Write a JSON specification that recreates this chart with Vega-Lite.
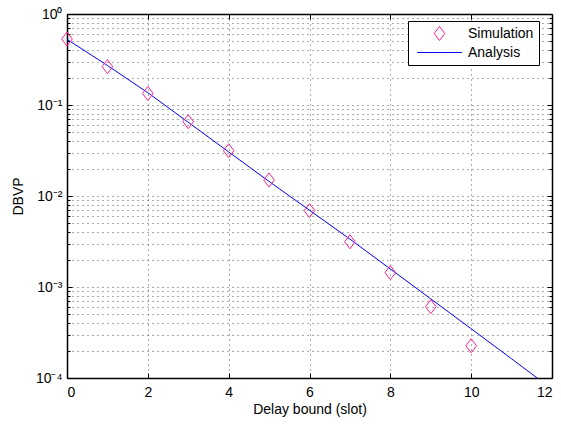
{
  "$schema": "https://vega.github.io/schema/vega-lite/v6.json",
  "width": 485,
  "height": 364,
  "autosize": "none",
  "padding": {"left": 67, "top": 14, "right": 9, "bottom": 47},
  "background": "white",
  "config": {
    "font": "Liberation Sans",
    "view": {"stroke": null},
    "axis": {
      "domainColor": "black",
      "domainWidth": 1.5,
      "tickColor": "black",
      "tickWidth": 1,
      "labelColor": "black",
      "labelFont": "Liberation Sans",
      "labelFontSize": 14,
      "titleColor": "black",
      "titleFont": "Liberation Sans",
      "titleFontSize": 14,
      "titleFontWeight": "normal",
      "gridColor": "#222222",
      "gridDash": [1, 4],
      "gridWidth": 1,
      "gridOpacity": 0.75
    }
  },
  "datasets": {
    "simulation": [
      {"delay": 0, "dbvp": 0.531, "series": "Simulation"},
      {"delay": 1, "dbvp": 0.264, "series": "Simulation"},
      {"delay": 2, "dbvp": 0.134, "series": "Simulation"},
      {"delay": 3, "dbvp": 0.0656, "series": "Simulation"},
      {"delay": 4, "dbvp": 0.0315, "series": "Simulation"},
      {"delay": 5, "dbvp": 0.015, "series": "Simulation"},
      {"delay": 6, "dbvp": 0.0069, "series": "Simulation"},
      {"delay": 7, "dbvp": 0.00314, "series": "Simulation"},
      {"delay": 8, "dbvp": 0.00144, "series": "Simulation"},
      {"delay": 9, "dbvp": 0.000608, "series": "Simulation"},
      {"delay": 10, "dbvp": 0.000226, "series": "Simulation"}
    ],
    "analysis": [
      {"delay": 0, "dbvp": 0.527, "series": "Analysis"},
      {"delay": 1, "dbvp": 0.272, "series": "Analysis"},
      {"delay": 2, "dbvp": 0.1365, "series": "Analysis"},
      {"delay": 3, "dbvp": 0.0646, "series": "Analysis"},
      {"delay": 4, "dbvp": 0.0305, "series": "Analysis"},
      {"delay": 5, "dbvp": 0.01445, "series": "Analysis"},
      {"delay": 6, "dbvp": 0.00698, "series": "Analysis"},
      {"delay": 7, "dbvp": 0.00336, "series": "Analysis"},
      {"delay": 8, "dbvp": 0.001578, "series": "Analysis"},
      {"delay": 9, "dbvp": 0.000741, "series": "Analysis"},
      {"delay": 10, "dbvp": 0.000348, "series": "Analysis"},
      {"delay": 11, "dbvp": 0.0001625, "series": "Analysis"},
      {"delay": 11.635, "dbvp": 0.0001, "series": "Analysis"}
    ]
  },
  "layer": [
    {
      "data": {"name": "analysis"},
      "mark": {"type": "line", "strokeWidth": 1, "clip": true},
      "encoding": {
        "x": {
          "field": "delay", "type": "quantitative",
          "scale": {"domain": [0, 12], "nice": false, "zero": false},
          "axis": {
            "orient": "bottom",
            "title": "Delay bound (slot)",
            "values": [0, 2, 4, 6, 8, 10, 12],
            "tickSize": -5,
            "labelPadding": 12,
            "titlePadding": 3,
            "grid": true
          }
        },
        "y": {
          "field": "dbvp", "type": "quantitative",
          "scale": {"type": "log", "domain": [0.0001, 1], "nice": false},
          "axis": {
            "orient": "left",
            "title": "DBVP",
            "values": [0.0001, 0.0002, 0.0003, 0.0004, 0.0005, 0.0006, 0.0007, 0.0008, 0.0009,
                       0.001, 0.002, 0.003, 0.004, 0.005, 0.006, 0.007, 0.008, 0.009,
                       0.01, 0.02, 0.03, 0.04, 0.05, 0.06, 0.07, 0.08, 0.09,
                       0.1, 0.2, 0.3, 0.4, 0.5, 0.6, 0.7, 0.8, 0.9, 1],
            "labelExpr": "abs(log(datum.value)/LN10 - round(log(datum.value)/LN10)) < 0.001 ? '10' + ['⁰','⁻¹','⁻²','⁻³','⁻⁴'][-round(log(datum.value)/LN10)] : ''",
            "tickSize": {"condition": {"test": "abs(log(datum.value)/LN10 - round(log(datum.value)/LN10)) < 0.001", "value": -5}, "value": -3},
            "labelPadding": 10,
            "labelBaseline": "middle",
            "titlePadding": 10,
            "grid": true
          }
        },
        "color": {
          "field": "series", "type": "nominal",
          "scale": {"domain": ["Simulation", "Analysis"], "range": ["#ff1f8f", "#0000ff"]},
          "legend": {
            "orient": "none",
            "legendX": 341,
            "legendY": 7,
            "title": null,
            "strokeColor": "black",
            "fillColor": "white",
            "padding": 5,
            "cornerRadius": 0,
            "labelFont": "Liberation Sans",
            "labelFontSize": 14,
            "labelColor": "black",
            "labelOffset": 40,
            "rowPadding": 2,
            "symbolSize": 196,
            "symbolStrokeWidth": 1,
            "encode": {
              "symbols": {
                "update": {
                  "x": {"value": 26.5},
                  "stroke": {"scale": "color", "field": "value"}
                }
              }
            }
          }
        }
      }
    },
    {
      "data": {"name": "simulation"},
      "mark": {"type": "point", "filled": false, "strokeWidth": 1, "size": 196, "opacity": 1},
      "encoding": {
        "x": {"field": "delay", "type": "quantitative", "axis": null},
        "y": {"field": "dbvp", "type": "quantitative", "axis": null},
        "color": {"field": "series", "type": "nominal"},
        "shape": {
          "field": "series", "type": "nominal",
          "scale": {"domain": ["Simulation", "Analysis"], "range": ["M0,-1L0.76,0L0,1L-0.76,0Z", "M-3.2,0L3.2,0"]}
        }
      }
    },
    {
      "data": {"name": "simulation"},
      "mark": {"type": "point", "opacity": 0},
      "encoding": {
        "x": {
          "field": "delay", "type": "quantitative",
          "axis": {"orient": "top", "title": null, "labels": false, "grid": false,
                   "values": [0, 2, 4, 6, 8, 10, 12], "tickSize": -5}
        },
        "y": {
          "field": "dbvp", "type": "quantitative",
          "axis": {
            "orient": "right", "title": null, "labels": false, "grid": false,
            "values": [0.0001, 0.0002, 0.0003, 0.0004, 0.0005, 0.0006, 0.0007, 0.0008, 0.0009,
                       0.001, 0.002, 0.003, 0.004, 0.005, 0.006, 0.007, 0.008, 0.009,
                       0.01, 0.02, 0.03, 0.04, 0.05, 0.06, 0.07, 0.08, 0.09,
                       0.1, 0.2, 0.3, 0.4, 0.5, 0.6, 0.7, 0.8, 0.9, 1],
            "tickSize": {"condition": {"test": "abs(log(datum.value)/LN10 - round(log(datum.value)/LN10)) < 0.001", "value": -5}, "value": -3}
          }
        }
      }
    }
  ],
  "resolve": {"axis": {"x": "independent", "y": "independent"}}
}
